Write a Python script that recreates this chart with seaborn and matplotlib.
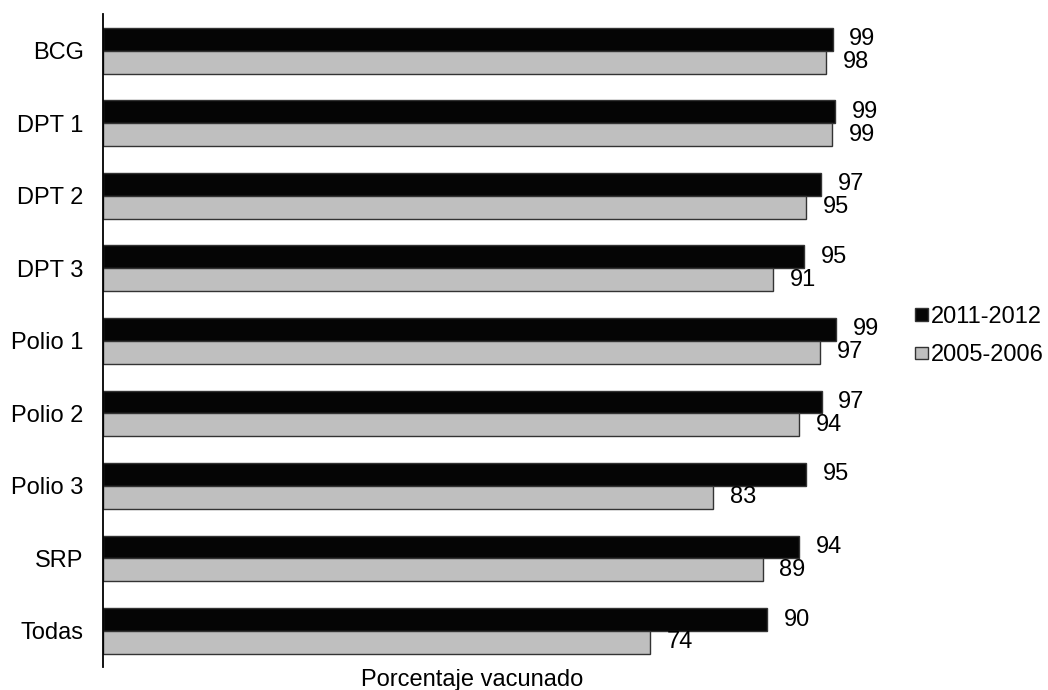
import pandas as pd
import numpy as np
import matplotlib
matplotlib.use("Agg")
import matplotlib.pyplot as plt
import matplotlib.patches as mpatches
import seaborn as sns

# Data (percent vaccinated)
vaccines = ["BCG", "DPT 1", "DPT 2", "DPT 3", "Polio 1", "Polio 2", "Polio 3", "SRP", "Todas"]
pct_2011 = [98.9, 99.2, 97.3, 95.0, 99.4, 97.4, 95.3, 94.4, 90.0]
pct_2005 = [98.0, 98.8, 95.3, 90.8, 97.2, 94.4, 82.7, 89.4, 74.1]
periods = ["2011-2012", "2005-2006"]
colors = ["#050505", "#bfbfbf"]

df = pd.DataFrame({
    "Vacuna": vaccines * 2,
    "Porcentaje": pct_2011 + pct_2005,
    "Periodo": [periods[0]] * len(vaccines) + [periods[1]] * len(vaccines),
})

sns.set_style("white")
plt.rcParams["font.family"] = ["Liberation Sans", "DejaVu Sans"]
plt.rcParams["text.color"] = "black"
plt.rcParams["axes.labelcolor"] = "black"
plt.rcParams["ytick.color"] = "black"

fig = plt.figure(figsize=(10.48, 6.9), dpi=100)
ax = fig.add_axes([0.0983, 0.033, 0.704, 0.946])

sns.barplot(data=df, x="Porcentaje", y="Vacuna", hue="Periodo", hue_order=periods,
            palette=colors, orient="h", width=0.63, edgecolor="#333333", linewidth=1,
            legend=False, ax=ax)

# Value labels at bar ends
for cont in ax.containers:
    ax.bar_label(cont, fmt="%.0f", padding=12, fontsize=17, color="black", clip_on=False)

ax.set_xlim(0, 100)
ax.set_ylim(8.5, -0.5)
ax.set_xticks([])
ax.set_xlabel("Porcentaje vacunado", fontsize=17, labelpad=1)
ax.set_ylabel("")
ax.tick_params(axis="y", length=0, pad=14, labelsize=17, labelcolor="black")

for side in ["top", "right", "bottom"]:
    ax.spines[side].set_visible(False)
ax.spines["left"].set_color("black")
ax.spines["left"].set_linewidth(1.3)

# Legend on the right
handles = [mpatches.Patch(facecolor=c, edgecolor="#333333", linewidth=1) for c in colors]
fig.legend(handles, periods, loc="center left", bbox_to_anchor=(0.873, 0.513),
           frameon=False, fontsize=17, handlelength=0.55, handleheight=0.45,
           handletextpad=0.12, labelspacing=0.7, borderaxespad=0, borderpad=0)

fig.savefig("out.png", dpi=100)
